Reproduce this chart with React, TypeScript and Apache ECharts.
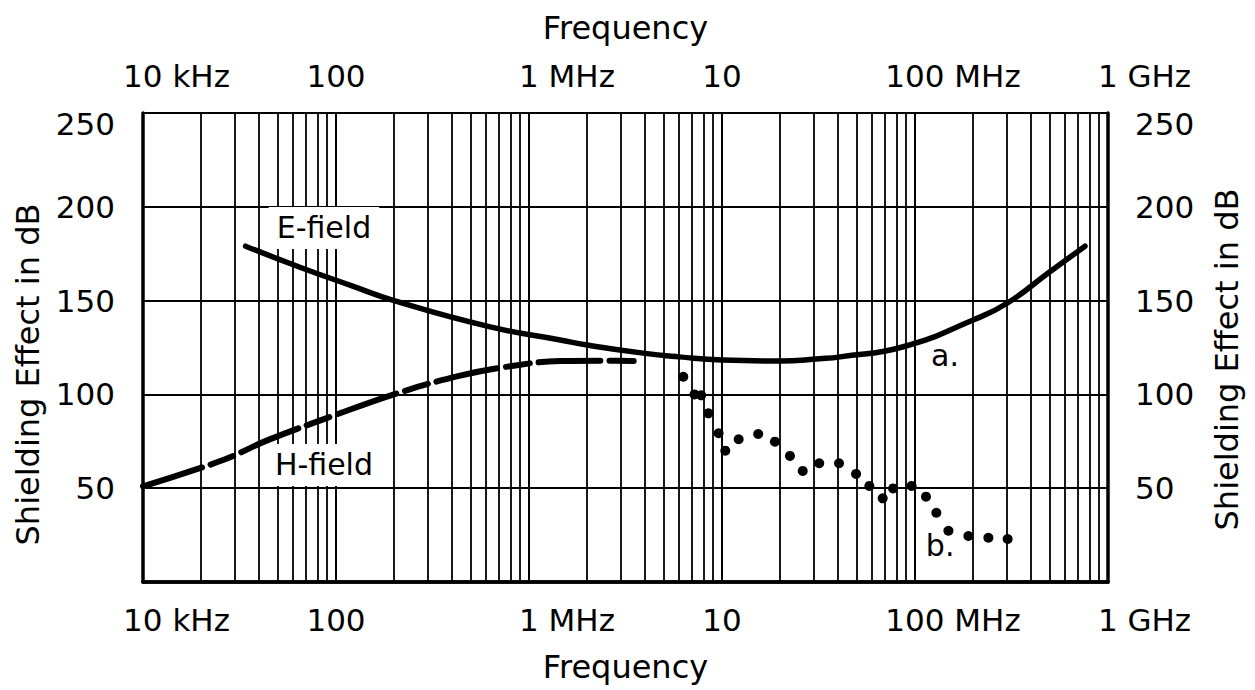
import React, { useEffect, useRef } from "react";
import * as echarts from "echarts";

const FONT = "'DejaVu Sans', sans-serif";

// Tick labels for the log frequency axis
const xTickValues = [1e4, 1e5, 1e6, 1e7, 1e8, 1e9];
const xTickLabels = ["10 kHz", "100", "1 MHz", "10", "100 MHz", "1 GHz"];
const decades = [1e4, 1e5, 1e6, 1e7, 1e8];
const minorMultipliers = [2, 3, 4, 5, 6, 7, 8, 9];

// Curve a: E-field (solid)
const eFreq = [3.4e4, 6.5e4, 1.2e5, 2e5, 6.3e5, 1.45e6, 2e6, 3.9e6, 6e6, 1e7, 2e7, 3.2e7, 4.1e7, 8.7e7, 2e8, 3e8, 5e8, 7.6e8];
const eVal = [179, 167.8, 158, 150, 136, 129, 126.3, 122, 120, 118.3, 117.8, 119, 120, 125.4, 139.7, 148.6, 165.4, 179];

// H-field (dashed)
const hFreq = [1e4, 2.6e4, 4.4e4, 9.3e4, 2.06e5, 4.4e5, 8e5, 1.45e6, 2.5e6, 3.6e6];
const hVal = [51, 65, 75.5, 88, 100.5, 110, 115, 117.8, 118, 117.8];

// Curve b: measured points (dotted)
const bFreq = [6.3e6, 7.2e6, 7.8e6, 8.5e6, 9.6e6, 1.04e7, 1.22e7, 1.54e7, 1.88e7, 2.25e7, 2.62e7, 3.19e7, 4.04e7, 4.95e7, 5.8e7, 6.8e7, 7.7e7, 9.6e7, 1.14e8, 1.29e8, 1.49e8, 1.89e8, 2.4e8, 3.02e8];
const bVal = [109.4, 100, 99.5, 89.9, 79.3, 70, 76.1, 78.9, 74.8, 67.2, 59.2, 63.3, 63.3, 57.6, 51.2, 44.6, 49.9, 51.2, 45.5, 36.9, 27.3, 24.5, 23.6, 22.9];

// Annotations (data coordinates)
const annoText = ["E-field", "H-field", "a.", "b."];
const annoFreq = [8.66e4, 8.66e4, 1.43e8, 1.35e8];
const annoVal = [188.7, 62.4, 121, 19.7];

// style: invisible spacer widths so the number sits on its grid line
const spacerW = [67, 0, 76, 0, 76, 73];

function xLabel(value: number) {
  const i = xTickValues.findIndex((t) => Math.abs(Math.log10(t) - Math.log10(value)) < 1e-6);
  if (i < 0) return "";
  if (spacerW[i] === 0) return "{t|" + xTickLabels[i] + "}";
  return "{s" + i + "|\u00a0}{t|" + xTickLabels[i] + "}";
}

const richX: any = { t: { fontSize: 31, fontFamily: FONT, color: "#000" } };
spacerW.forEach((w, i) => {
  if (w) richX["s" + i] = { width: w, fontSize: 31, fontFamily: FONT, color: "rgba(0,0,0,0)" };
});

function yLabel(v: number) {
  if (v === 0) return "";
  if (v === 250) return "{top|250}";
  return "{t|" + v + "}";
}
const richY: any = {
  t: { fontSize: 31, fontFamily: FONT, color: "#000" },
  top: { fontSize: 31, fontFamily: FONT, color: "#000", padding: [22, 0, 0, 0] },
};

const frameLine = { show: true, lineStyle: { color: "#000", width: 3.5 } };

function makeX(position: "top" | "bottom") {
  return {
    type: "log",
    logBase: 10,
    min: 1e4,
    max: 1e9,
    splitNumber: 5,
    position,
    name: "Frequency",
    nameLocation: "middle",
    nameGap: 69,
    nameTextStyle: { fontSize: 32, fontFamily: FONT, color: "#000" },
    axisLine: frameLine,
    axisTick: { show: false },
    axisLabel: {
      show: true,
      margin: 22,
      formatter: xLabel,
      rich: richX,
      showMinLabel: true,
      showMaxLabel: true,
      hideOverlap: false,
    },
    splitLine: { show: position === "bottom", lineStyle: { color: "#000", width: 2 } },
    minorTick: { show: false },
    minorSplitLine: { show: false },
  };
}

function makeY(position: "left" | "right") {
  return {
    type: "value",
    min: 0,
    max: 250,
    interval: 50,
    position,
    name: "Shielding Effect in dB",
    nameLocation: "middle",
    nameRotate: 90,
    nameGap: position === "left" ? 99 : 103,
    nameTextStyle: {
      fontSize: 32,
      fontFamily: FONT,
      color: "#000",
      padding: position === "left" ? [0, 54, 0, 0] : [0, 24, 0, 0],
    },
    axisLine: frameLine,
    axisTick: { show: false },
    axisLabel: {
      margin: position === "left" ? 28 : 27,
      formatter: yLabel,
      rich: richY,
      showMinLabel: true,
      showMaxLabel: true,
    },
    splitLine: { show: position === "left", lineStyle: { color: "#000", width: 2 } },
  };
}

export default function App() {
  const ref = useRef<HTMLDivElement>(null);
  useEffect(() => {
    document.body.style.margin = "0";
    const chart = echarts.init(ref.current!, null, { renderer: "svg" });
    const minorLines: any[] = [];
    decades.forEach((d) => minorMultipliers.forEach((m) => minorLines.push({ xAxis: d * m })));

    const option: any = {
      animation: false,
      backgroundColor: "#fff",
      grid: { left: 143, right: 147, top: 113, bottom: 108, containLabel: false },
      xAxis: [makeX("bottom"), makeX("top")],
      yAxis: [makeY("left"), makeY("right")],
      series: [
        {
          name: "H-field",
          type: "line",
          xAxisIndex: 0,
          yAxisIndex: 0,
          data: hFreq.map((f, i) => [f, hVal[i]]),
          smooth: 0.4,
          showSymbol: false,
          lineStyle: { color: "#000", width: 6, type: [62, 9, 24, 9], cap: "round" },
          silent: true,
          z: 4,
          markLine: {
            silent: true,
            symbol: ["none", "none"],
            label: { show: false },
            lineStyle: { color: "#000", width: 1.8, type: "solid" },
            emphasis: { disabled: true },
            data: minorLines,
          },
        },
        {
          name: "E-field",
          type: "line",
          xAxisIndex: 0,
          yAxisIndex: 0,
          data: eFreq.map((f, i) => [f, eVal[i]]),
          smooth: 0.5,
          showSymbol: false,
          lineStyle: { color: "#000", width: 5.5, cap: "round" },
          silent: true,
          z: 5,
        },
        {
          name: "b",
          type: "scatter",
          xAxisIndex: 0,
          yAxisIndex: 0,
          data: bFreq.map((f, i) => [f, bVal[i]]),
          symbolSize: 10,
          itemStyle: { color: "#000", opacity: 1 },
          silent: true,
          z: 5,
        },
        {
          name: "annotations",
          type: "scatter",
          xAxisIndex: 0,
          yAxisIndex: 0,
          data: [],
          silent: true,
          z: 6,
          markPoint: {
            silent: true,
            symbol: "circle",
            symbolSize: 1,
            itemStyle: { color: "rgba(0,0,0,0)" },
            data: annoText.map((t, i) => ({
              coord: [annoFreq[i], annoVal[i]],
              name: t,
              label: {
                show: true,
                position: "inside",
                formatter: t,
                fontSize: 30,
                fontFamily: FONT,
                color: "#000",
                backgroundColor: i < 2 ? "#fff" : "transparent",
                padding: i < 2 ? [6, 8, 6, 8] : 0,
              },
            })),
          },
        },
      ],
    };
    chart.setOption(option);
    return () => chart.dispose();
  }, []);
  return <div ref={ref} style={{ width: 1255, height: 690 }} />;
}
